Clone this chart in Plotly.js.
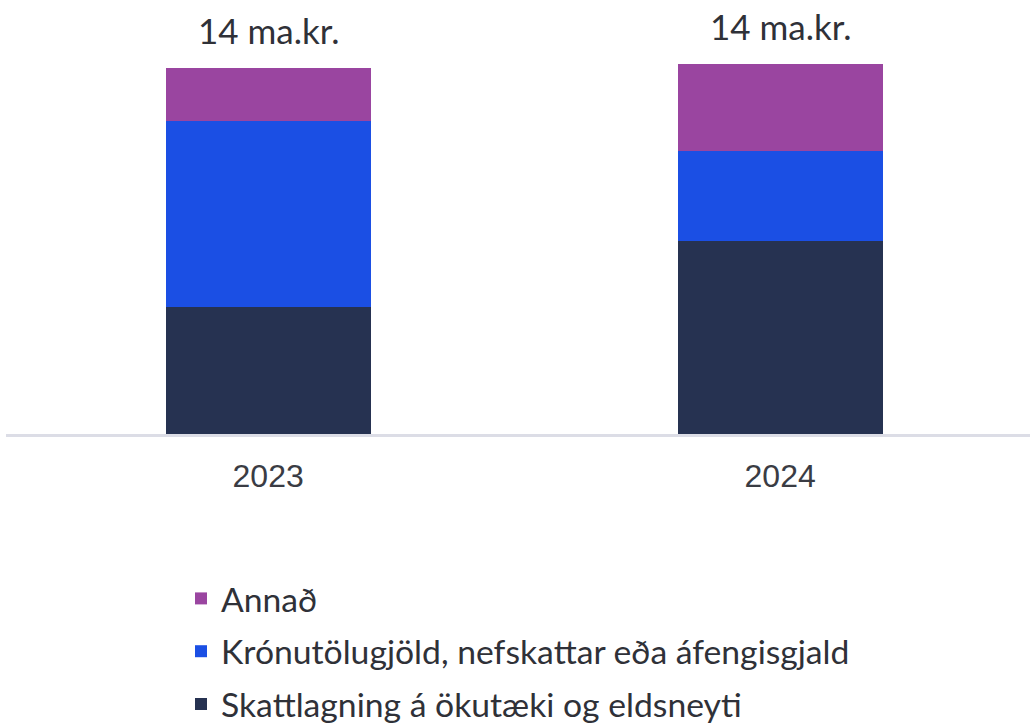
<!DOCTYPE html>
<html>
<head>
<meta charset="utf-8">
<script src="https://cdn.plot.ly/plotly-3.0.1.min.js"></script>
<style>html,body{margin:0;padding:0;background:#fff;}#chart{width:1030px;height:725px;}</style>
</head>
<body>
<div id="chart"></div>
<script>
var years = ['2023', '2024'];
var seriesNames = ['Skattlagning á ökutæki og eldsneyti', 'Krónutölugjöld, nefskattar eða áfengisgjald', 'Annað'];
var skattlagning = [4.8, 7.3];
var kronutolugjold = [7.05, 3.4];
var annad = [2.0, 3.3];
var totalLabels = ['14 ma.kr.', '14 ma.kr.'];
var colors = ['#263251', '#1b4fe4', '#9a45a0'];

var seriesValues = [skattlagning, kronutolugjold, annad];
var traces = seriesValues.map(function (vals, i) {
  return {
    type: 'bar',
    x: years,
    y: vals,
    name: seriesNames[i],
    marker: {color: colors[i], line: {width: 0}},
    width: 0.4,
    legendgroup: 'g' + i,
    legendrank: 100 - i,
    hoverinfo: 'y+name'
  };
});

var totals = years.map(function (_, j) {
  return seriesValues.reduce(function (s, v) { return s + v[j]; }, 0);
});

var annotations = years.map(function (yr, j) {
  return {
    x: j, y: totals[j], xref: 'x', yref: 'y',
    text: totalLabels[j], showarrow: false,
    yanchor: 'middle', yshift: 38,
    font: {family: 'Lato, "Open Sans", sans-serif', size: 35, color: '#2f3138'}
  };
});

var layout = {
  width: 1030, height: 725,
  margin: {l: 6, r: 0, t: 40, b: 291, autoexpand: false},
  paper_bgcolor: '#ffffff', plot_bgcolor: '#ffffff',
  barmode: 'stack',
  showlegend: true,
  xaxis: {
    type: 'category',
    range: [-0.512, 1.488],
    autorange: false,
    showline: true, linecolor: '#dcdde6', linewidth: 3,
    showgrid: false, zeroline: false, ticks: '',
    ticklabelstandoff: 12,
    tickfont: {family: '"Liberation Sans", Arial, sans-serif', size: 32, color: '#3a3c44'},
    fixedrange: true
  },
  yaxis: {
    range: [0, 14.9],
    autorange: false,
    visible: false, showgrid: false, zeroline: false, fixedrange: true
  },
  legend: {
    xref: 'container', yref: 'container',
    x: 181 / 1030, y: 1 - 570 / 725,
    xanchor: 'left', yanchor: 'top',
    traceorder: 'grouped',
    tracegroupgap: 6,
    font: {family: 'Lato, "Open Sans", sans-serif', size: 33.7, color: '#2f3138'},
    bgcolor: 'rgba(0,0,0,0)', borderwidth: 0
  },
  annotations: annotations
};

Plotly.newPlot('chart', traces, layout, {displayModeBar: false, staticPlot: true});
</script>
</body>
</html>
